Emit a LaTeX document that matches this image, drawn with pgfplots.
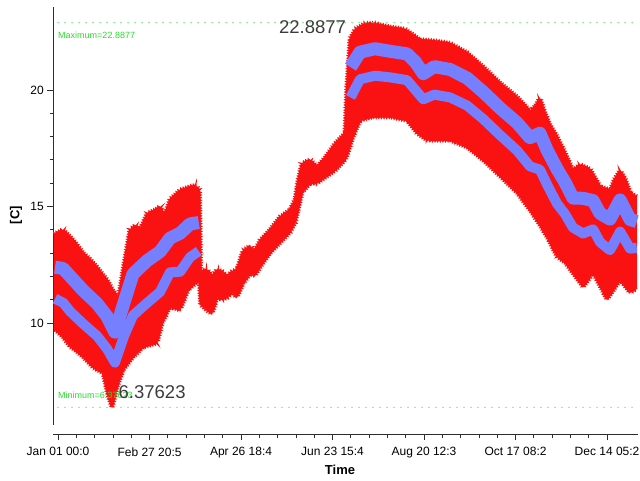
\documentclass[border=0pt]{standalone}
\usepackage{fontspec}
\setmainfont{Liberation Sans}
\usepackage{pgfplots}
\usepackage{pgfplotstable}
\pgfplotsset{compat=1.18}
\usepgfplotslibrary{fillbetween}
\usetikzlibrary{decorations.pathmorphing}
\definecolor{bandred}{RGB}{250,18,18}
\definecolor{bandblue}{RGB}{118,128,255}
\definecolor{gdot}{RGB}{95,232,115}
\definecolor{gtext}{RGB}{40,222,40}
\definecolor{bigtext}{RGB}{60,60,60}
\definecolor{axisgray}{RGB}{45,45,45}

\pgfplotstableread{
x y
-2.6 13.8
0 13.9
3.2 14.0
7.6 13.7
11.5 13.4
15.8 13.0
20 12.75
24.7 12.4
28 12.1
31.0 11.85
34.8 11.4
38.3 11.1
41.7 12.5
45.5 14.0
49 14.2
51.9 14.0
56.3 14.7
61.4 14.85
64.5 15.0
67.5 14.6
70.8 15.3
74 15.5
77.2 15.7
83.5 15.85
87 15.9
89.4 15.7
90.2 12.2
94.2 12.3
97.5 12.0
100.6 12.3
103.8 12.2
106.9 12.0
110 12.2
113.2 12.3
117.0 13.1
121.4 13.3
124.5 13.1
127.8 13.55
134.1 14.0
140.4 14.55
146.7 14.85
149.9 15.3
151.8 16.1
154.3 16.85
159.4 17.0
163.8 16.7
168.9 17.1
175.2 17.7
181.5 18.15
182.6 20.0
184.7 22.2
187.9 22.6
194.2 22.85
200.5 22.85
210 22.7
219.5 22.6
223.9 22.4
229.0 22.15
238.4 22.1
247.9 22.0
258.7 21.6
268.8 21.0
279.6 20.3
290.3 19.7
298.5 19.1
301.7 19.3
304.8 19.65
308 19.0
311.2 18.5
315.6 18.0
320.7 17.3
325.7 16.55
330.1 16.8
336.5 16.6
342.8 15.85
349.1 15.7
352.3 16.2
355.5 16.55
358.6 16.2
361.8 15.6
366.2 15.4
}\Utab

\pgfplotstableread{
x y
-2.6 9.75
0 9.6
3.2 9.4
7.6 9.0
11.5 8.8
15.8 8.55
22.1 8.1
28.5 7.85
31.6 6.9
34.2 6.38
37.3 7.25
41.1 7.98
47.4 8.54
53.8 8.97
58.2 9.06
62.6 9.14
65.8 10.0
70.8 10.69
77.2 10.56
82.2 11.42
89.4 11.85
90.2 10.8
94.2 10.55
97.5 10.4
100.6 11.1
103.8 11.0
106.9 11.1
110 11.3
113.2 11.1
117.0 11.7
121.4 12.1
124.5 12.05
127.8 12.4
134.1 13.0
140.4 13.45
146.7 13.9
149.9 14.3
151.8 14.85
154.3 15.6
159.4 16.0
163.8 16.0
168.9 16.25
175.2 16.55
181.5 17.0
183.4 17.3
186.6 18.0
191.0 18.7
199.2 18.85
210 18.85
220.7 18.7
227.1 18.15
233.4 17.85
247.9 17.85
258.7 17.55
268.8 17.0
279.6 16.3
290.3 15.6
298.5 14.85
304.8 14.2
309.3 13.7
315.6 12.85
320.7 12.6
325.7 12.15
332.1 11.55
338.4 12.15
342.8 11.6
347.2 11.0
355.5 11.85
361.8 11.3
366.2 11.5
}\Ltab

\pgfplotstableread{
x y
-1.9 12.39
3.2 12.34
7.6 12.01
15.8 11.4
24.7 10.83
31.0 10.28
36 9.6
41.7 10.87
47.4 12.1
56.3 12.67
64.5 13.06
70.8 13.64
77.2 13.85
83.5 14.25
89.0 14.31
}\BoneA

\pgfplotstableread{
x y
-1.9 11.04
3.2 10.87
7.6 10.5
15.8 9.97
24.7 9.44
31.0 8.89
36 8.3
41.7 9.43
47.4 10.32
56.3 10.86
64.5 11.33
70.8 12.17
77.2 12.2
83.5 12.82
89.0 13.08
}\BtwoA

\pgfplotstableread{
x y
185 20.98
191 21.62
200.5 21.77
210 21.66
220.7 21.55
226 21.2
231 20.7
238 21.0
247.9 20.88
258.7 20.51
268.8 19.92
279.6 19.22
290.3 18.59
298.5 17.95
304.8 18.14
309.3 17.42
315.6 16.61
320.7 16.03
325.7 15.36
332.1 15.35
338.4 15.25
342.8 14.7
349.1 14.46
355.5 15.28
361.8 14.44
366 14.35
}\BoneB

\pgfplotstableread{
x y
185 19.68
191 20.46
200.5 20.61
210 20.54
220.7 20.42
226 20.0
231 19.6
238 19.8
247.9 19.68
258.7 19.33
268.8 18.76
279.6 18.06
290.3 17.4
298.5 16.72
304.8 16.58
309.3 15.94
315.6 15.12
320.7 14.67
325.7 14.09
332.1 13.84
338.4 14.02
342.8 13.47
349.1 13.12
355.5 13.92
361.8 13.19
366 13.22
}\BtwoB

\begin{document}
\begin{tikzpicture}
\begin{axis}[
  at={(53.3pt,55pt)}, anchor=south west,
  scale only axis, width=585pt, height=418pt,
  xmin=-3, xmax=367, ymin=5.62, ymax=23.56,
  axis lines=left,
  axis line style={-, draw=axisgray, line width=0.9pt},
  axis x line shift=9pt,
  tick align=outside,
  major tick length=6pt, minor tick length=3.5pt,
  tick style={axisgray, line width=0.8pt},
  xtick={0,57.87,115.74,173.61,231.48,289.35,347.22},
  xticklabels={\mbox{Jan 01 00:0},\mbox{Feb 27 20:5},\mbox{Apr 26 18:4},\mbox{Jun 23 15:4},\mbox{Aug 20 12:3},\mbox{Oct 17 08:2},\mbox{Dec 14 05:2}},
  minor x tick num=4,
  ytick={10,15,20}, minor y tick num=4,
  ticklabel style={font=\fontsize{12}{14}\selectfont, text=black},
  xticklabel style={yshift=-4pt},
  /pgf/number format/assume math mode=true,
  clip=false,
]
\addplot[name path=U, draw=none] table {\Utab};
\addplot[name path=L, draw=none] table {\Ltab};
\addplot[bandred] fill between[of=U and L];
\addplot[bandred, line width=1.6pt, decorate, decoration={zigzag, segment length=2.6pt, amplitude=1.2pt}] table {\Utab};
\addplot[bandred, line width=1.6pt, decorate, decoration={zigzag, segment length=2.6pt, amplitude=1.2pt}] table {\Ltab};
\addplot[bandblue, line width=13pt, line join=round] table {\BoneA};
\addplot[bandblue, line width=10pt, line join=round] table {\BtwoA};
\addplot[bandblue, line width=13pt, line join=round] table {\BoneB};
\addplot[bandblue, line width=10pt, line join=round] table {\BtwoB};
\addplot[gdot, line width=1.6pt, dash pattern=on 0pt off 7pt, line cap=round] coordinates {(0,22.8877) (367,22.8877)};
\addplot[gdot, line width=1.6pt, dash pattern=on 0pt off 7pt, line cap=round] coordinates {(0,6.37623) (367,6.37623)};
\node[anchor=west, text=gtext, font=\fontsize{9}{10}\selectfont, inner sep=0pt] at (axis cs:0,22.36) {Maximum=22.8877};
\node[anchor=west, text=gtext, font=\fontsize{9}{10}\selectfont, inner sep=0pt] at (axis cs:0,6.9) {Minimum=6.37623};
\node[text=bigtext, font=\fontsize{18.5}{20}\selectfont] at (axis cs:161,22.7) {22.8877};
\node[text=bigtext, font=\fontsize{18.5}{20}\selectfont] at (axis cs:59.5,7.04) {6.37623};
\end{axis}
\node[font=\bfseries\fontsize{13}{15}\selectfont] at (340pt,10pt) {Time};
\node[rotate=90, font=\bfseries\fontsize{13}{15}\selectfont] at (16pt,265pt) {[C]};
\pgfresetboundingbox
\useasboundingbox (0,0) rectangle (640pt,480pt);
\end{tikzpicture}
\end{document}
